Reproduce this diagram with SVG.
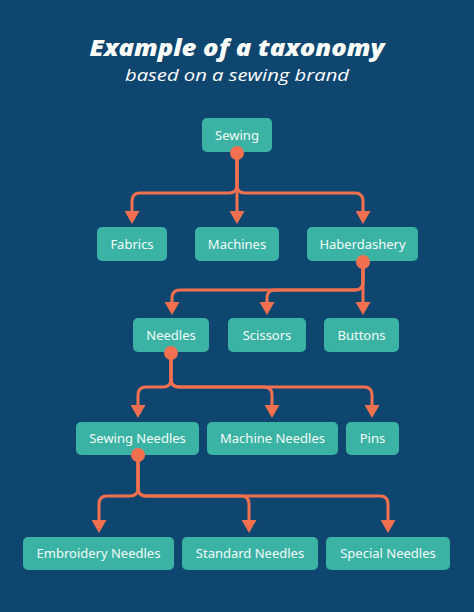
<svg xmlns="http://www.w3.org/2000/svg" width="474" height="612" viewBox="0 0 474 612">
<style>
.box{fill:#3bb3a4}
.lbl{font-family:"Noto Sans","Liberation Sans",sans-serif;font-size:13px;fill:#f2fbf9;text-anchor:middle}
.con{fill:none;stroke:#f2704f;stroke-width:3}
.dot{fill:#f2704f}
</style>
<defs>
<marker id="ah" viewBox="0 0 13 15" refX="0" refY="7.5" markerWidth="13" markerHeight="15" markerUnits="userSpaceOnUse" orient="auto">
<path d="M0,0 L13,7.5 L0,15 z" fill="#f2704f"/>
</marker>
</defs>
<rect width="474" height="612" fill="#0e4670"/>
<text x="237" y="56" text-anchor="middle" font-family="'Open Sans','Liberation Sans',sans-serif" font-weight="800" font-style="italic" font-size="23" fill="#ffffff" textLength="295" lengthAdjust="spacingAndGlyphs">Example of a taxonomy</text>
<text x="237" y="81" text-anchor="middle" font-family="'Open Sans','Liberation Sans',sans-serif" font-style="italic" font-size="16.5" fill="#ffffff" textLength="224" lengthAdjust="spacingAndGlyphs">based on a sewing brand</text>

<g id="connectors">
<path class="con" marker-end="url(#ah)" d="M237,153 V185 Q237,193 229,193 H140 Q132,193 132,201 V211"/>
<path class="con" marker-end="url(#ah)" d="M237,153 V211"/>
<path class="con" marker-end="url(#ah)" d="M237,153 V185 Q237,193 245,193 H355 Q363,193 363,201 V211"/>

<path class="con" marker-end="url(#ah)" d="M363,262 V282 Q363,290 355,290 H180 Q172,290 172,298 V302"/>
<path class="con" marker-end="url(#ah)" d="M363,262 V282 Q363,290 355,290 H275 Q267,290 267,298 V302"/>
<path class="con" marker-end="url(#ah)" d="M363,262 V302"/>

<path class="con" marker-end="url(#ah)" d="M171,353 V379 Q171,387 163,387 H146 Q138,387 138,395 V405"/>
<path class="con" marker-end="url(#ah)" d="M171,353 V379 Q171,387 179,387 H264 Q272,387 272,395 V405"/>
<path class="con" marker-end="url(#ah)" d="M171,353 V379 Q171,387 179,387 H364 Q372,387 372,395 V405"/>

<path class="con" marker-end="url(#ah)" d="M138,455 V488 Q138,496 130,496 H107 Q99,496 99,504 V520"/>
<path class="con" marker-end="url(#ah)" d="M138,455 V488 Q138,496 146,496 H241 Q249,496 249,504 V520"/>
<path class="con" marker-end="url(#ah)" d="M138,455 V488 Q138,496 146,496 H380 Q388,496 388,504 V520"/>
</g>

<g id="sewing"><rect class="box" x="202" y="118" width="70" height="34" rx="5"/><text class="lbl" x="237" y="139.5">Sewing</text></g>
<g id="fabrics"><rect class="box" x="97" y="227" width="70" height="34" rx="5"/><text class="lbl" x="132" y="248.5">Fabrics</text></g>
<g id="machines"><rect class="box" x="195" y="227" width="84" height="34" rx="5"/><text class="lbl" x="237" y="248.5">Machines</text></g>
<g id="haberdashery"><rect class="box" x="307" y="227" width="111" height="34" rx="5"/><text class="lbl" x="362.5" y="248.5">Haberdashery</text></g>
<g id="needles"><rect class="box" x="133" y="318" width="76" height="34" rx="5"/><text class="lbl" x="171" y="339.5">Needles</text></g>
<g id="scissors"><rect class="box" x="228" y="318" width="78" height="34" rx="5"/><text class="lbl" x="267" y="339.5">Scissors</text></g>
<g id="buttons"><rect class="box" x="324" y="318" width="75" height="34" rx="5"/><text class="lbl" x="361.5" y="339.5">Buttons</text></g>
<g id="sewing-needles"><rect class="box" x="76" y="422" width="123" height="33" rx="5"/><text class="lbl" x="137.5" y="443">Sewing Needles</text></g>
<g id="machine-needles"><rect class="box" x="207" y="422" width="131" height="33" rx="5"/><text class="lbl" x="272.5" y="443">Machine Needles</text></g>
<g id="pins"><rect class="box" x="346" y="422" width="53" height="33" rx="5"/><text class="lbl" x="372.5" y="443">Pins</text></g>
<g id="embroidery-needles"><rect class="box" x="23" y="537" width="151" height="33" rx="5"/><text class="lbl" x="98.5" y="558">Embroidery Needles</text></g>
<g id="standard-needles"><rect class="box" x="182" y="537" width="136" height="33" rx="5"/><text class="lbl" x="250" y="558">Standard Needles</text></g>
<g id="special-needles"><rect class="box" x="326" y="537" width="124" height="33" rx="5"/><text class="lbl" x="388" y="558">Special Needles</text></g>

<g id="dots">
<circle class="dot" cx="237" cy="153" r="7"/>
<circle class="dot" cx="363" cy="262" r="7"/>
<circle class="dot" cx="171" cy="353" r="7"/>
<circle class="dot" cx="138" cy="455" r="7"/>
</g>
</svg>
